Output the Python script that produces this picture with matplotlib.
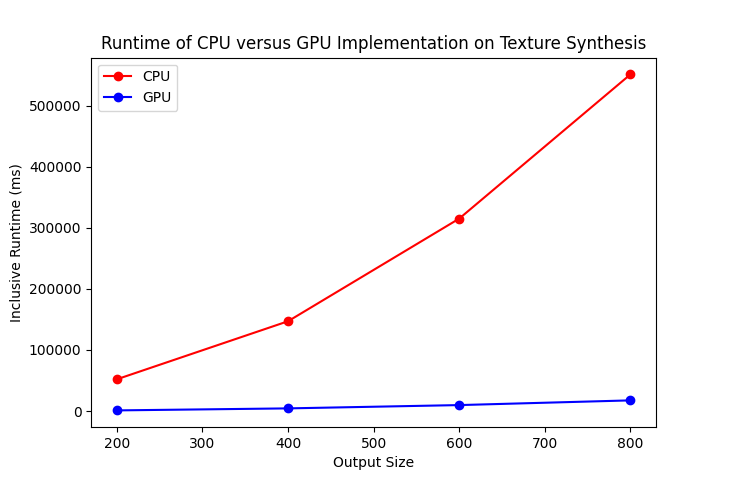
import matplotlib
matplotlib.use('Agg')
import matplotlib.pyplot as plt

sizes = [200, 400, 600, 800]
cpu_ms = [52000, 147000, 315000, 551000]
gpu_ms = [1100, 4400, 9800, 17500]

fig = plt.figure(figsize=(7.29, 4.8), dpi=100)
ax = fig.add_subplot(111)
ax.plot(sizes, cpu_ms, 'ro-', label='CPU')
ax.plot(sizes, gpu_ms, 'bo-', label='GPU')
ax.set_title('Runtime of CPU versus GPU Implementation on Texture Synthesis')
ax.set_xlabel('Output Size')
ax.set_ylabel('Inclusive Runtime (ms)')
ax.legend(loc='upper left')
fig.savefig('out.png', dpi=100)
